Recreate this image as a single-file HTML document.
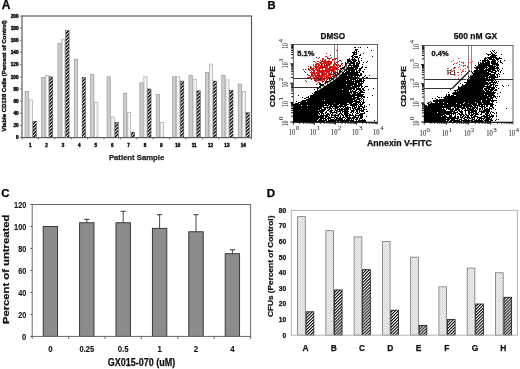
<!DOCTYPE html>
<html><head><meta charset="utf-8"><style>
html,body{margin:0;padding:0;background:#fff;width:520px;height:369px;overflow:hidden}
svg{display:block;filter:blur(0.3px)}
</style></head><body>
<svg width="520" height="369" viewBox="0 0 520 369">
<rect width="520" height="369" fill="#fff"/>
<defs>
<pattern id="hatchA" patternUnits="userSpaceOnUse" width="2.4" height="3" patternTransform="rotate(45)">
<rect width="2.4" height="3" fill="#fff"/><rect width="1.4" height="3" fill="#000"/></pattern>
<pattern id="hatchD" patternUnits="userSpaceOnUse" width="2.15" height="3" patternTransform="rotate(45)">
<rect width="2.15" height="3" fill="#fff"/><rect width="1.05" height="3" fill="#000"/></pattern>
<pattern id="grayA" patternUnits="userSpaceOnUse" width="4" height="4">
<rect width="4" height="4" fill="#cfcfcf"/></pattern>
<pattern id="dotA" patternUnits="userSpaceOnUse" width="2" height="2">
<rect width="2" height="2" fill="#fafafa"/><rect width="1" height="1" fill="#dedede"/></pattern>
<pattern id="dotD" patternUnits="userSpaceOnUse" width="2" height="2">
<rect width="2" height="2" fill="#f0f0f0"/><rect width="1" height="1" fill="#d2d2d2"/><rect x="1" y="1" width="1" height="1" fill="#dcdcdc"/></pattern>
</defs>
<text x="1.7" y="9.3" font-family="Liberation Sans, sans-serif" font-size="12" font-weight="bold" fill="#000" text-anchor="start" stroke="#000" stroke-width="0.25" >A</text>
<text x="267.4" y="9" font-family="Liberation Sans, sans-serif" font-size="11.2" font-weight="bold" fill="#000" text-anchor="start" stroke="#000" stroke-width="0.25" >B</text>
<text x="1.2" y="197.3" font-family="Liberation Sans, sans-serif" font-size="11.4" font-weight="bold" fill="#000" text-anchor="start" stroke="#000" stroke-width="0.25" >C</text>
<text x="266.8" y="196.8" font-family="Liberation Sans, sans-serif" font-size="11.6" font-weight="bold" fill="#000" text-anchor="start" stroke="#000" stroke-width="0.25" >D</text>
<rect x="25.1" y="91.39" width="3.25" height="46.21" fill="url(#grayA)" stroke="#9a9a9a" stroke-width="0.75" />
<rect x="29.05" y="99.9" width="3.25" height="37.7" fill="url(#dotA)" stroke="#a8a8a8" stroke-width="0.7" />
<rect x="32.95" y="121.18" width="3.35" height="16.42" fill="url(#hatchA)" stroke="#333" stroke-width="0.45" />
<rect x="41.49" y="77.41" width="3.25" height="60.19" fill="url(#grayA)" stroke="#9a9a9a" stroke-width="0.75" />
<rect x="45.44" y="75.58" width="3.25" height="62.02" fill="url(#dotA)" stroke="#a8a8a8" stroke-width="0.7" />
<rect x="49.34" y="76.8" width="3.35" height="60.8" fill="url(#hatchA)" stroke="#333" stroke-width="0.45" />
<rect x="57.89" y="43.36" width="3.25" height="94.24" fill="url(#grayA)" stroke="#9a9a9a" stroke-width="0.75" />
<rect x="61.84" y="39.1" width="3.25" height="98.5" fill="url(#dotA)" stroke="#a8a8a8" stroke-width="0.7" />
<rect x="65.74" y="30.59" width="3.35" height="107.01" fill="url(#hatchA)" stroke="#333" stroke-width="0.45" />
<rect x="74.28" y="59.17" width="3.25" height="78.43" fill="url(#grayA)" stroke="#9a9a9a" stroke-width="0.75" />
<rect x="82.13" y="77.41" width="3.35" height="60.19" fill="url(#hatchA)" stroke="#333" stroke-width="0.45" />
<rect x="90.67" y="74.37" width="3.25" height="63.23" fill="url(#grayA)" stroke="#9a9a9a" stroke-width="0.75" />
<rect x="94.62" y="102.34" width="3.25" height="35.26" fill="url(#dotA)" stroke="#a8a8a8" stroke-width="0.7" />
<rect x="107.06" y="76.8" width="3.25" height="60.8" fill="url(#grayA)" stroke="#9a9a9a" stroke-width="0.75" />
<rect x="111.01" y="116.93" width="3.25" height="20.67" fill="url(#dotA)" stroke="#a8a8a8" stroke-width="0.7" />
<rect x="114.91" y="122.4" width="3.35" height="15.2" fill="url(#hatchA)" stroke="#333" stroke-width="0.45" />
<rect x="123.46" y="93.22" width="3.25" height="44.38" fill="url(#grayA)" stroke="#9a9a9a" stroke-width="0.75" />
<rect x="127.41" y="112.67" width="3.25" height="24.93" fill="url(#dotA)" stroke="#a8a8a8" stroke-width="0.7" />
<rect x="131.31" y="132.13" width="3.35" height="5.47" fill="url(#hatchA)" stroke="#333" stroke-width="0.45" />
<rect x="139.85" y="82.88" width="3.25" height="54.72" fill="url(#grayA)" stroke="#9a9a9a" stroke-width="0.75" />
<rect x="143.8" y="76.8" width="3.25" height="60.8" fill="url(#dotA)" stroke="#a8a8a8" stroke-width="0.7" />
<rect x="147.7" y="88.96" width="3.35" height="48.64" fill="url(#hatchA)" stroke="#333" stroke-width="0.45" />
<rect x="156.24" y="94.43" width="3.25" height="43.17" fill="url(#grayA)" stroke="#9a9a9a" stroke-width="0.75" />
<rect x="160.19" y="122.4" width="3.25" height="15.2" fill="url(#dotA)" stroke="#a8a8a8" stroke-width="0.7" />
<rect x="172.64" y="76.8" width="3.25" height="60.8" fill="url(#grayA)" stroke="#9a9a9a" stroke-width="0.75" />
<rect x="176.59" y="76.8" width="3.25" height="60.8" fill="url(#dotA)" stroke="#a8a8a8" stroke-width="0.7" />
<rect x="180.49" y="81.06" width="3.35" height="56.54" fill="url(#hatchA)" stroke="#333" stroke-width="0.45" />
<rect x="189.03" y="75.58" width="3.25" height="62.02" fill="url(#grayA)" stroke="#9a9a9a" stroke-width="0.75" />
<rect x="192.98" y="79.23" width="3.25" height="58.37" fill="url(#dotA)" stroke="#a8a8a8" stroke-width="0.7" />
<rect x="196.88" y="90.78" width="3.35" height="46.82" fill="url(#hatchA)" stroke="#333" stroke-width="0.45" />
<rect x="205.42" y="72.54" width="3.25" height="65.06" fill="url(#grayA)" stroke="#9a9a9a" stroke-width="0.75" />
<rect x="209.37" y="64.03" width="3.25" height="73.57" fill="url(#dotA)" stroke="#a8a8a8" stroke-width="0.7" />
<rect x="213.27" y="81.06" width="3.35" height="56.54" fill="url(#hatchA)" stroke="#333" stroke-width="0.45" />
<rect x="221.81" y="75.58" width="3.25" height="62.02" fill="url(#grayA)" stroke="#9a9a9a" stroke-width="0.75" />
<rect x="225.76" y="79.84" width="3.25" height="57.76" fill="url(#dotA)" stroke="#a8a8a8" stroke-width="0.7" />
<rect x="229.66" y="90.18" width="3.35" height="47.42" fill="url(#hatchA)" stroke="#333" stroke-width="0.45" />
<rect x="238.21" y="84.1" width="3.25" height="53.5" fill="url(#grayA)" stroke="#9a9a9a" stroke-width="0.75" />
<rect x="242.16" y="91.39" width="3.25" height="46.21" fill="url(#dotA)" stroke="#a8a8a8" stroke-width="0.7" />
<rect x="246.06" y="112.67" width="3.35" height="24.93" fill="url(#hatchA)" stroke="#333" stroke-width="0.45" />
<rect x="22" y="16" width="229.5" height="121.6" fill="none" stroke="#5c5c5c" stroke-width="1.2" />
<line x1="20" y1="137.6" x2="22" y2="137.6" stroke="#666" stroke-width="0.8" />
<text x="18.6" y="139.3" font-family="Liberation Sans, sans-serif" font-size="4.7" font-weight="bold" fill="#111" text-anchor="end" stroke="#111" stroke-width="0.45" >0</text>
<line x1="20" y1="125.44" x2="22" y2="125.44" stroke="#666" stroke-width="0.8" />
<text x="18.6" y="127.14" font-family="Liberation Sans, sans-serif" font-size="4.7" font-weight="bold" fill="#111" text-anchor="end" stroke="#111" stroke-width="0.45" >20</text>
<line x1="20" y1="113.28" x2="22" y2="113.28" stroke="#666" stroke-width="0.8" />
<text x="18.6" y="114.98" font-family="Liberation Sans, sans-serif" font-size="4.7" font-weight="bold" fill="#111" text-anchor="end" stroke="#111" stroke-width="0.45" >40</text>
<line x1="20" y1="101.12" x2="22" y2="101.12" stroke="#666" stroke-width="0.8" />
<text x="18.6" y="102.82" font-family="Liberation Sans, sans-serif" font-size="4.7" font-weight="bold" fill="#111" text-anchor="end" stroke="#111" stroke-width="0.45" >60</text>
<line x1="20" y1="88.96" x2="22" y2="88.96" stroke="#666" stroke-width="0.8" />
<text x="18.6" y="90.66" font-family="Liberation Sans, sans-serif" font-size="4.7" font-weight="bold" fill="#111" text-anchor="end" stroke="#111" stroke-width="0.45" >80</text>
<line x1="20" y1="76.8" x2="22" y2="76.8" stroke="#666" stroke-width="0.8" />
<text x="18.6" y="78.5" font-family="Liberation Sans, sans-serif" font-size="4.7" font-weight="bold" fill="#111" text-anchor="end" stroke="#111" stroke-width="0.45" >100</text>
<line x1="20" y1="64.64" x2="22" y2="64.64" stroke="#666" stroke-width="0.8" />
<text x="18.6" y="66.34" font-family="Liberation Sans, sans-serif" font-size="4.7" font-weight="bold" fill="#111" text-anchor="end" stroke="#111" stroke-width="0.45" >120</text>
<line x1="20" y1="52.48" x2="22" y2="52.48" stroke="#666" stroke-width="0.8" />
<text x="18.6" y="54.18" font-family="Liberation Sans, sans-serif" font-size="4.7" font-weight="bold" fill="#111" text-anchor="end" stroke="#111" stroke-width="0.45" >140</text>
<line x1="20" y1="40.32" x2="22" y2="40.32" stroke="#666" stroke-width="0.8" />
<text x="18.6" y="42.02" font-family="Liberation Sans, sans-serif" font-size="4.7" font-weight="bold" fill="#111" text-anchor="end" stroke="#111" stroke-width="0.45" >160</text>
<line x1="20" y1="28.16" x2="22" y2="28.16" stroke="#666" stroke-width="0.8" />
<text x="18.6" y="29.86" font-family="Liberation Sans, sans-serif" font-size="4.7" font-weight="bold" fill="#111" text-anchor="end" stroke="#111" stroke-width="0.45" >180</text>
<line x1="20" y1="16" x2="22" y2="16" stroke="#666" stroke-width="0.8" />
<text x="18.6" y="17.7" font-family="Liberation Sans, sans-serif" font-size="4.7" font-weight="bold" fill="#111" text-anchor="end" stroke="#111" stroke-width="0.45" >200</text>
<line x1="22" y1="137.6" x2="22" y2="139.6" stroke="#666" stroke-width="0.8" />
<line x1="38.39" y1="137.6" x2="38.39" y2="139.6" stroke="#666" stroke-width="0.8" />
<line x1="54.79" y1="137.6" x2="54.79" y2="139.6" stroke="#666" stroke-width="0.8" />
<line x1="71.18" y1="137.6" x2="71.18" y2="139.6" stroke="#666" stroke-width="0.8" />
<line x1="87.57" y1="137.6" x2="87.57" y2="139.6" stroke="#666" stroke-width="0.8" />
<line x1="103.96" y1="137.6" x2="103.96" y2="139.6" stroke="#666" stroke-width="0.8" />
<line x1="120.36" y1="137.6" x2="120.36" y2="139.6" stroke="#666" stroke-width="0.8" />
<line x1="136.75" y1="137.6" x2="136.75" y2="139.6" stroke="#666" stroke-width="0.8" />
<line x1="153.14" y1="137.6" x2="153.14" y2="139.6" stroke="#666" stroke-width="0.8" />
<line x1="169.54" y1="137.6" x2="169.54" y2="139.6" stroke="#666" stroke-width="0.8" />
<line x1="185.93" y1="137.6" x2="185.93" y2="139.6" stroke="#666" stroke-width="0.8" />
<line x1="202.32" y1="137.6" x2="202.32" y2="139.6" stroke="#666" stroke-width="0.8" />
<line x1="218.71" y1="137.6" x2="218.71" y2="139.6" stroke="#666" stroke-width="0.8" />
<line x1="235.11" y1="137.6" x2="235.11" y2="139.6" stroke="#666" stroke-width="0.8" />
<line x1="251.5" y1="137.6" x2="251.5" y2="139.6" stroke="#666" stroke-width="0.8" />
<text x="30.2" y="147" font-family="Liberation Sans, sans-serif" font-size="4.6" font-weight="bold" fill="#111" text-anchor="middle" stroke="#111" stroke-width="0.45" >1</text>
<text x="46.59" y="147" font-family="Liberation Sans, sans-serif" font-size="4.6" font-weight="bold" fill="#111" text-anchor="middle" stroke="#111" stroke-width="0.45" >2</text>
<text x="62.98" y="147" font-family="Liberation Sans, sans-serif" font-size="4.6" font-weight="bold" fill="#111" text-anchor="middle" stroke="#111" stroke-width="0.45" >3</text>
<text x="79.38" y="147" font-family="Liberation Sans, sans-serif" font-size="4.6" font-weight="bold" fill="#111" text-anchor="middle" stroke="#111" stroke-width="0.45" >4</text>
<text x="95.77" y="147" font-family="Liberation Sans, sans-serif" font-size="4.6" font-weight="bold" fill="#111" text-anchor="middle" stroke="#111" stroke-width="0.45" >5</text>
<text x="112.16" y="147" font-family="Liberation Sans, sans-serif" font-size="4.6" font-weight="bold" fill="#111" text-anchor="middle" stroke="#111" stroke-width="0.45" >6</text>
<text x="128.55" y="147" font-family="Liberation Sans, sans-serif" font-size="4.6" font-weight="bold" fill="#111" text-anchor="middle" stroke="#111" stroke-width="0.45" >7</text>
<text x="144.95" y="147" font-family="Liberation Sans, sans-serif" font-size="4.6" font-weight="bold" fill="#111" text-anchor="middle" stroke="#111" stroke-width="0.45" >8</text>
<text x="161.34" y="147" font-family="Liberation Sans, sans-serif" font-size="4.6" font-weight="bold" fill="#111" text-anchor="middle" stroke="#111" stroke-width="0.45" >9</text>
<text x="177.73" y="147" font-family="Liberation Sans, sans-serif" font-size="4.6" font-weight="bold" fill="#111" text-anchor="middle" stroke="#111" stroke-width="0.45" >10</text>
<text x="194.12" y="147" font-family="Liberation Sans, sans-serif" font-size="4.6" font-weight="bold" fill="#111" text-anchor="middle" stroke="#111" stroke-width="0.45" >11</text>
<text x="210.52" y="147" font-family="Liberation Sans, sans-serif" font-size="4.6" font-weight="bold" fill="#111" text-anchor="middle" stroke="#111" stroke-width="0.45" >12</text>
<text x="226.91" y="147" font-family="Liberation Sans, sans-serif" font-size="4.6" font-weight="bold" fill="#111" text-anchor="middle" stroke="#111" stroke-width="0.45" >13</text>
<text x="243.3" y="147" font-family="Liberation Sans, sans-serif" font-size="4.6" font-weight="bold" fill="#111" text-anchor="middle" stroke="#111" stroke-width="0.45" >14</text>
<text x="108.9" y="159.5" font-family="Liberation Sans, sans-serif" font-size="7.8" font-weight="bold" fill="#222" text-anchor="start" stroke="#222" stroke-width="0.25" textLength="55.4" lengthAdjust="spacingAndGlyphs" >Patient Sample</text>
<text transform="translate(6.2,131.4) rotate(-90)" font-family="Liberation Sans, sans-serif" font-size="5.6" font-weight="bold" fill="#111" text-anchor="start" stroke="#111" stroke-width="0.4" textLength="111" lengthAdjust="spacingAndGlyphs" >Viable CD138 Cells (Percent of Control)</text>
<rect x="43.2" y="226.48" width="14.4" height="109.92" fill="#8c8c8c" stroke="#2a2a2a" stroke-width="0.9" />
<line x1="86.8" y1="219.34" x2="86.8" y2="222.75" stroke="#333" stroke-width="0.9" />
<line x1="84.2" y1="219.34" x2="89.4" y2="219.34" stroke="#333" stroke-width="1" />
<rect x="79.6" y="222.75" width="14.4" height="113.65" fill="#8c8c8c" stroke="#2a2a2a" stroke-width="0.9" />
<line x1="123.2" y1="211.31" x2="123.2" y2="222.75" stroke="#333" stroke-width="0.9" />
<line x1="120.6" y1="211.31" x2="125.8" y2="211.31" stroke="#333" stroke-width="1" />
<rect x="116" y="222.75" width="14.4" height="113.65" fill="#8c8c8c" stroke="#2a2a2a" stroke-width="0.9" />
<line x1="159.6" y1="214.72" x2="159.6" y2="228.35" stroke="#333" stroke-width="0.9" />
<line x1="157" y1="214.72" x2="162.2" y2="214.72" stroke="#333" stroke-width="1" />
<rect x="152.4" y="228.35" width="14.4" height="108.05" fill="#8c8c8c" stroke="#2a2a2a" stroke-width="0.9" />
<line x1="196" y1="214.72" x2="196" y2="231.76" stroke="#333" stroke-width="0.9" />
<line x1="193.4" y1="214.72" x2="198.6" y2="214.72" stroke="#333" stroke-width="1" />
<rect x="188.8" y="231.76" width="14.4" height="104.64" fill="#8c8c8c" stroke="#2a2a2a" stroke-width="0.9" />
<line x1="232.4" y1="249.79" x2="232.4" y2="253.74" stroke="#333" stroke-width="0.9" />
<line x1="229.8" y1="249.79" x2="235" y2="249.79" stroke="#333" stroke-width="1" />
<rect x="225.2" y="253.74" width="14.4" height="82.66" fill="#8c8c8c" stroke="#2a2a2a" stroke-width="0.9" />
<rect x="32.2" y="204.5" width="218.4" height="131.9" fill="none" stroke="#6a6a6a" stroke-width="1" />
<line x1="30.4" y1="336.4" x2="32.2" y2="336.4" stroke="#444" stroke-width="0.9" />
<text x="26.3" y="339.8" font-family="Liberation Sans, sans-serif" font-size="9.6" font-weight="bold" fill="#111" text-anchor="end" stroke="#111" stroke-width="0.1" textLength="4.2" lengthAdjust="spacingAndGlyphs" >0</text>
<line x1="30.4" y1="314.42" x2="32.2" y2="314.42" stroke="#444" stroke-width="0.9" />
<text x="26.3" y="317.82" font-family="Liberation Sans, sans-serif" font-size="9.6" font-weight="bold" fill="#111" text-anchor="end" stroke="#111" stroke-width="0.1" textLength="8.1" lengthAdjust="spacingAndGlyphs" >20</text>
<line x1="30.4" y1="292.43" x2="32.2" y2="292.43" stroke="#444" stroke-width="0.9" />
<text x="26.3" y="295.83" font-family="Liberation Sans, sans-serif" font-size="9.6" font-weight="bold" fill="#111" text-anchor="end" stroke="#111" stroke-width="0.1" textLength="8.1" lengthAdjust="spacingAndGlyphs" >40</text>
<line x1="30.4" y1="270.45" x2="32.2" y2="270.45" stroke="#444" stroke-width="0.9" />
<text x="26.3" y="273.85" font-family="Liberation Sans, sans-serif" font-size="9.6" font-weight="bold" fill="#111" text-anchor="end" stroke="#111" stroke-width="0.1" textLength="8.1" lengthAdjust="spacingAndGlyphs" >60</text>
<line x1="30.4" y1="248.47" x2="32.2" y2="248.47" stroke="#444" stroke-width="0.9" />
<text x="26.3" y="251.87" font-family="Liberation Sans, sans-serif" font-size="9.6" font-weight="bold" fill="#111" text-anchor="end" stroke="#111" stroke-width="0.1" textLength="8.1" lengthAdjust="spacingAndGlyphs" >80</text>
<line x1="30.4" y1="226.48" x2="32.2" y2="226.48" stroke="#444" stroke-width="0.9" />
<text x="26.3" y="229.88" font-family="Liberation Sans, sans-serif" font-size="9.6" font-weight="bold" fill="#111" text-anchor="end" stroke="#111" stroke-width="0.1" textLength="12.2" lengthAdjust="spacingAndGlyphs" >100</text>
<line x1="30.4" y1="204.5" x2="32.2" y2="204.5" stroke="#444" stroke-width="0.9" />
<text x="26.3" y="207.9" font-family="Liberation Sans, sans-serif" font-size="9.6" font-weight="bold" fill="#111" text-anchor="end" stroke="#111" stroke-width="0.1" textLength="12.2" lengthAdjust="spacingAndGlyphs" >120</text>
<line x1="32.2" y1="336.4" x2="32.2" y2="338.8" stroke="#444" stroke-width="0.9" />
<line x1="68.6" y1="336.4" x2="68.6" y2="338.8" stroke="#444" stroke-width="0.9" />
<line x1="105" y1="336.4" x2="105" y2="338.8" stroke="#444" stroke-width="0.9" />
<line x1="141.4" y1="336.4" x2="141.4" y2="338.8" stroke="#444" stroke-width="0.9" />
<line x1="177.8" y1="336.4" x2="177.8" y2="338.8" stroke="#444" stroke-width="0.9" />
<line x1="214.2" y1="336.4" x2="214.2" y2="338.8" stroke="#444" stroke-width="0.9" />
<line x1="250.6" y1="336.4" x2="250.6" y2="338.8" stroke="#444" stroke-width="0.9" />
<text x="50.4" y="352" font-family="Liberation Sans, sans-serif" font-size="9" font-weight="bold" fill="#111" text-anchor="middle" stroke="#111" stroke-width="0.1" textLength="4.4" lengthAdjust="spacingAndGlyphs" >0</text>
<text x="86.8" y="352" font-family="Liberation Sans, sans-serif" font-size="9" font-weight="bold" fill="#111" text-anchor="middle" stroke="#111" stroke-width="0.1" textLength="14.6" lengthAdjust="spacingAndGlyphs" >0.25</text>
<text x="123.2" y="352" font-family="Liberation Sans, sans-serif" font-size="9" font-weight="bold" fill="#111" text-anchor="middle" stroke="#111" stroke-width="0.1" textLength="10.8" lengthAdjust="spacingAndGlyphs" >0.5</text>
<text x="159.6" y="352" font-family="Liberation Sans, sans-serif" font-size="9" font-weight="bold" fill="#111" text-anchor="middle" stroke="#111" stroke-width="0.1" textLength="4.4" lengthAdjust="spacingAndGlyphs" >1</text>
<text x="196" y="352" font-family="Liberation Sans, sans-serif" font-size="9" font-weight="bold" fill="#111" text-anchor="middle" stroke="#111" stroke-width="0.1" textLength="4.4" lengthAdjust="spacingAndGlyphs" >2</text>
<text x="232.4" y="352" font-family="Liberation Sans, sans-serif" font-size="9" font-weight="bold" fill="#111" text-anchor="middle" stroke="#111" stroke-width="0.1" textLength="4.4" lengthAdjust="spacingAndGlyphs" >4</text>
<text x="107.8" y="365.7" font-family="Liberation Sans, sans-serif" font-size="10.6" font-weight="bold" fill="#111" text-anchor="start" stroke="#111" stroke-width="0.25" textLength="67.4" lengthAdjust="spacingAndGlyphs" >GX015-070 (uM)</text>
<text transform="translate(8.6,324.1) rotate(-90)" font-family="Liberation Sans, sans-serif" font-size="8.9" font-weight="bold" fill="#111" text-anchor="start" stroke="#111" stroke-width="0.25" textLength="109.4" lengthAdjust="spacingAndGlyphs" >Percent of untreated</text>
<rect x="297.6" y="216.64" width="7.7" height="118.56" fill="url(#dotD)" stroke="#777" stroke-width="0.8" />
<rect x="306.1" y="311.8" width="7.7" height="23.4" fill="url(#hatchD)" stroke="#111" stroke-width="0.8" />
<text x="305.43" y="351.3" font-family="Liberation Sans, sans-serif" font-size="8.4" font-weight="bold" fill="#111" text-anchor="middle" stroke="#111" stroke-width="0.25" >A</text>
<rect x="325.86" y="230.68" width="7.7" height="104.52" fill="url(#dotD)" stroke="#777" stroke-width="0.8" />
<rect x="334.36" y="289.96" width="7.7" height="45.24" fill="url(#hatchD)" stroke="#111" stroke-width="0.8" />
<text x="333.69" y="351.3" font-family="Liberation Sans, sans-serif" font-size="8.4" font-weight="bold" fill="#111" text-anchor="middle" stroke="#111" stroke-width="0.25" >B</text>
<rect x="354.12" y="236.92" width="7.7" height="98.28" fill="url(#dotD)" stroke="#777" stroke-width="0.8" />
<rect x="362.62" y="269.68" width="7.7" height="65.52" fill="url(#hatchD)" stroke="#111" stroke-width="0.8" />
<text x="361.96" y="351.3" font-family="Liberation Sans, sans-serif" font-size="8.4" font-weight="bold" fill="#111" text-anchor="middle" stroke="#111" stroke-width="0.25" >C</text>
<rect x="382.39" y="241.6" width="7.7" height="93.6" fill="url(#dotD)" stroke="#777" stroke-width="0.8" />
<rect x="390.89" y="310.24" width="7.7" height="24.96" fill="url(#hatchD)" stroke="#111" stroke-width="0.8" />
<text x="390.22" y="351.3" font-family="Liberation Sans, sans-serif" font-size="8.4" font-weight="bold" fill="#111" text-anchor="middle" stroke="#111" stroke-width="0.25" >D</text>
<rect x="410.65" y="257.2" width="7.7" height="78" fill="url(#dotD)" stroke="#777" stroke-width="0.8" />
<rect x="419.15" y="325.53" width="7.7" height="9.67" fill="url(#hatchD)" stroke="#111" stroke-width="0.8" />
<text x="418.48" y="351.3" font-family="Liberation Sans, sans-serif" font-size="8.4" font-weight="bold" fill="#111" text-anchor="middle" stroke="#111" stroke-width="0.25" >E</text>
<rect x="438.91" y="286.84" width="7.7" height="48.36" fill="url(#dotD)" stroke="#777" stroke-width="0.8" />
<rect x="447.41" y="319.6" width="7.7" height="15.6" fill="url(#hatchD)" stroke="#111" stroke-width="0.8" />
<text x="446.74" y="351.3" font-family="Liberation Sans, sans-serif" font-size="8.4" font-weight="bold" fill="#111" text-anchor="middle" stroke="#111" stroke-width="0.25" >F</text>
<rect x="467.17" y="268.12" width="7.7" height="67.08" fill="url(#dotD)" stroke="#777" stroke-width="0.8" />
<rect x="475.67" y="304" width="7.7" height="31.2" fill="url(#hatchD)" stroke="#111" stroke-width="0.8" />
<text x="475.01" y="351.3" font-family="Liberation Sans, sans-serif" font-size="8.4" font-weight="bold" fill="#111" text-anchor="middle" stroke="#111" stroke-width="0.25" >G</text>
<rect x="495.44" y="272.8" width="7.7" height="62.4" fill="url(#dotD)" stroke="#777" stroke-width="0.8" />
<rect x="503.94" y="297.29" width="7.7" height="37.91" fill="url(#hatchD)" stroke="#111" stroke-width="0.8" />
<text x="503.27" y="351.3" font-family="Liberation Sans, sans-serif" font-size="8.4" font-weight="bold" fill="#111" text-anchor="middle" stroke="#111" stroke-width="0.25" >H</text>
<rect x="291.3" y="210.4" width="226.1" height="124.8" fill="none" stroke="#b4b4b4" stroke-width="1" />
<text x="286.2" y="337.6" font-family="Liberation Sans, sans-serif" font-size="6.6" font-weight="bold" fill="#111" text-anchor="end" stroke="#111" stroke-width="0.25" >0</text>
<text x="286.2" y="322" font-family="Liberation Sans, sans-serif" font-size="6.6" font-weight="bold" fill="#111" text-anchor="end" stroke="#111" stroke-width="0.25" >10</text>
<text x="286.2" y="306.4" font-family="Liberation Sans, sans-serif" font-size="6.6" font-weight="bold" fill="#111" text-anchor="end" stroke="#111" stroke-width="0.25" >20</text>
<text x="286.2" y="290.8" font-family="Liberation Sans, sans-serif" font-size="6.6" font-weight="bold" fill="#111" text-anchor="end" stroke="#111" stroke-width="0.25" >30</text>
<text x="286.2" y="275.2" font-family="Liberation Sans, sans-serif" font-size="6.6" font-weight="bold" fill="#111" text-anchor="end" stroke="#111" stroke-width="0.25" >40</text>
<text x="286.2" y="259.6" font-family="Liberation Sans, sans-serif" font-size="6.6" font-weight="bold" fill="#111" text-anchor="end" stroke="#111" stroke-width="0.25" >50</text>
<text x="286.2" y="244" font-family="Liberation Sans, sans-serif" font-size="6.6" font-weight="bold" fill="#111" text-anchor="end" stroke="#111" stroke-width="0.25" >60</text>
<text x="286.2" y="228.4" font-family="Liberation Sans, sans-serif" font-size="6.6" font-weight="bold" fill="#111" text-anchor="end" stroke="#111" stroke-width="0.25" >70</text>
<text x="286.2" y="212.8" font-family="Liberation Sans, sans-serif" font-size="6.6" font-weight="bold" fill="#111" text-anchor="end" stroke="#111" stroke-width="0.25" >80</text>
<text transform="translate(272.5,317) rotate(-90)" font-family="Liberation Sans, sans-serif" font-size="8.1" font-weight="bold" fill="#111" text-anchor="start" stroke="#111" stroke-width="0.25" textLength="101.4" lengthAdjust="spacingAndGlyphs" >CFUs (Percent of Control)</text>
<rect x="293.4" y="44.5" width="84.1" height="77.5" fill="none" stroke="#555" stroke-width="0.9" />
<path d="M293.4 78.5H377.5M293.4 87.5H319" stroke="#333" stroke-width="1" fill="none"/>
<path d="M334.5 44.5V122M337.5 44.5V122" stroke="#555" stroke-width="0.7" fill="none"/>
<path fill="#000" d="M354 47h2v1h-2zM358 47h1v1h-1zM360 47h1v1h-1zM367 47h1v1h-1zM355 49h3v1h-3zM355 50h2v1h-2zM371 50h1v1h-1zM354 51h1v1h-1zM356 51h1v1h-1zM358 51h1v1h-1zM352 52h5v1h-5zM353 53h2v1h-2zM356 53h1v1h-1zM363 53h1v1h-1zM353 54h4v1h-4zM360 54h1v1h-1zM352 55h2v1h-2zM359 55h2v1h-2zM351 56h2v1h-2zM354 56h4v1h-4zM372 56h1v1h-1zM352 57h2v1h-2zM355 57h3v1h-3zM359 57h1v1h-1zM349 58h1v1h-1zM352 58h1v1h-1zM354 58h1v1h-1zM358 58h1v1h-1zM361 58h1v1h-1zM347 59h3v1h-3zM351 59h5v1h-5zM358 59h1v1h-1zM340 60h1v1h-1zM347 60h4v1h-4zM352 60h5v1h-5zM358 60h1v1h-1zM361 60h1v1h-1zM347 61h5v1h-5zM353 61h3v1h-3zM358 61h2v1h-2zM367 61h1v1h-1zM345 62h1v1h-1zM347 62h2v1h-2zM350 62h5v1h-5zM356 62h2v1h-2zM359 62h1v1h-1zM363 62h1v1h-1zM366 62h1v1h-1zM345 63h10v1h-10zM356 63h4v1h-4zM345 64h3v1h-3zM349 64h2v1h-2zM353 64h2v1h-2zM356 64h3v1h-3zM362 64h1v1h-1zM345 65h14v1h-14zM340 66h1v1h-1zM344 66h3v1h-3zM348 66h1v1h-1zM351 66h1v1h-1zM353 66h6v1h-6zM362 66h1v1h-1zM342 67h16v1h-16zM361 67h2v1h-2zM365 67h2v1h-2zM340 68h14v1h-14zM355 68h3v1h-3zM359 68h3v1h-3zM338 69h1v1h-1zM341 69h1v1h-1zM343 69h14v1h-14zM359 69h2v1h-2zM364 69h1v1h-1zM340 70h1v1h-1zM342 70h5v1h-5zM348 70h7v1h-7zM356 70h1v1h-1zM358 70h3v1h-3zM339 71h6v1h-6zM346 71h4v1h-4zM351 71h4v1h-4zM356 71h2v1h-2zM359 71h1v1h-1zM362 71h2v1h-2zM335 72h1v1h-1zM337 72h1v1h-1zM339 72h5v1h-5zM345 72h15v1h-15zM363 72h1v1h-1zM334 73h1v1h-1zM337 73h21v1h-21zM360 73h2v1h-2zM335 74h1v1h-1zM338 74h21v1h-21zM360 74h2v1h-2zM335 75h12v1h-12zM348 75h14v1h-14zM365 75h1v1h-1zM369 75h1v1h-1zM332 76h1v1h-1zM336 76h17v1h-17zM354 76h2v1h-2zM357 76h1v1h-1zM359 76h1v1h-1zM364 76h1v1h-1zM326 77h1v1h-1zM331 77h1v1h-1zM334 77h25v1h-25zM362 77h2v1h-2zM366 77h2v1h-2zM329 78h23v1h-23zM353 78h4v1h-4zM359 78h1v1h-1zM364 78h1v1h-1zM327 79h1v1h-1zM329 79h1v1h-1zM331 79h18v1h-18zM350 79h6v1h-6zM357 79h1v1h-1zM359 79h3v1h-3zM363 79h1v1h-1zM330 80h16v1h-16zM347 80h5v1h-5zM353 80h1v1h-1zM355 80h7v1h-7zM363 80h2v1h-2zM323 81h1v1h-1zM326 81h38v1h-38zM325 82h29v1h-29zM355 82h5v1h-5zM361 82h1v1h-1zM363 82h1v1h-1zM320 83h1v1h-1zM325 83h1v1h-1zM327 83h30v1h-30zM358 83h5v1h-5zM319 84h5v1h-5zM325 84h21v1h-21zM347 84h10v1h-10zM358 84h4v1h-4zM320 85h33v1h-33zM354 85h8v1h-8zM319 86h2v1h-2zM322 86h29v1h-29zM352 86h8v1h-8zM361 86h2v1h-2zM365 86h3v1h-3zM316 87h2v1h-2zM319 87h38v1h-38zM358 87h1v1h-1zM361 87h1v1h-1zM364 87h1v1h-1zM317 88h38v1h-38zM356 88h5v1h-5zM362 88h2v1h-2zM373 88h1v1h-1zM314 89h1v1h-1zM317 89h25v1h-25zM343 89h9v1h-9zM353 89h2v1h-2zM356 89h5v1h-5zM362 89h2v1h-2zM368 89h1v1h-1zM317 90h32v1h-32zM350 90h1v1h-1zM352 90h1v1h-1zM355 90h2v1h-2zM359 90h3v1h-3zM363 90h2v1h-2zM315 91h34v1h-34zM350 91h6v1h-6zM358 91h1v1h-1zM360 91h3v1h-3zM314 92h38v1h-38zM353 92h5v1h-5zM359 92h6v1h-6zM312 93h1v1h-1zM314 93h36v1h-36zM351 93h1v1h-1zM353 93h3v1h-3zM357 93h4v1h-4zM313 94h38v1h-38zM352 94h12v1h-12zM298 95h1v1h-1zM310 95h53v1h-53zM372 95h1v1h-1zM308 96h1v1h-1zM310 96h45v1h-45zM357 96h8v1h-8zM302 97h1v1h-1zM306 97h3v1h-3zM310 97h42v1h-42zM353 97h6v1h-6zM361 97h1v1h-1zM363 97h2v1h-2zM367 97h1v1h-1zM304 98h2v1h-2zM308 98h48v1h-48zM357 98h4v1h-4zM362 98h1v1h-1zM306 99h49v1h-49zM356 99h4v1h-4zM361 99h1v1h-1zM363 99h1v1h-1zM302 100h22v1h-22zM325 100h28v1h-28zM354 100h3v1h-3zM359 100h2v1h-2zM363 100h1v1h-1zM296 101h1v1h-1zM301 101h5v1h-5zM307 101h53v1h-53zM361 101h1v1h-1zM363 101h1v1h-1zM298 102h55v1h-55zM355 102h6v1h-6zM362 102h3v1h-3zM295 103h4v1h-4zM300 103h34v1h-34zM335 103h12v1h-12zM349 103h3v1h-3zM353 103h4v1h-4zM358 103h1v1h-1zM360 103h1v1h-1zM362 103h2v1h-2zM293 104h31v1h-31zM325 104h2v1h-2zM328 104h11v1h-11zM340 104h9v1h-9zM350 104h8v1h-8zM359 104h4v1h-4zM369 104h1v1h-1zM293 105h8v1h-8zM302 105h5v1h-5zM308 105h21v1h-21zM330 105h2v1h-2zM333 105h4v1h-4zM339 105h4v1h-4zM344 105h3v1h-3zM350 105h7v1h-7zM358 105h1v1h-1zM360 105h2v1h-2zM364 105h1v1h-1zM294 106h30v1h-30zM327 106h1v1h-1zM329 106h17v1h-17zM347 106h1v1h-1zM352 106h3v1h-3zM356 106h1v1h-1zM358 106h5v1h-5zM364 106h1v1h-1zM366 106h1v1h-1zM293 107h29v1h-29zM323 107h8v1h-8zM332 107h1v1h-1zM335 107h4v1h-4zM340 107h1v1h-1zM343 107h1v1h-1zM345 107h6v1h-6zM352 107h1v1h-1zM354 107h3v1h-3zM358 107h2v1h-2zM362 107h3v1h-3zM293 108h29v1h-29zM324 108h2v1h-2zM327 108h1v1h-1zM329 108h3v1h-3zM333 108h1v1h-1zM335 108h3v1h-3zM339 108h1v1h-1zM341 108h2v1h-2zM344 108h5v1h-5zM350 108h1v1h-1zM352 108h4v1h-4zM357 108h5v1h-5zM363 108h1v1h-1zM293 109h27v1h-27zM321 109h5v1h-5zM328 109h2v1h-2zM331 109h1v1h-1zM335 109h1v1h-1zM337 109h12v1h-12zM350 109h1v1h-1zM353 109h1v1h-1zM355 109h5v1h-5zM361 109h1v1h-1zM363 109h2v1h-2zM366 109h1v1h-1zM293 110h25v1h-25zM319 110h6v1h-6zM327 110h2v1h-2zM330 110h3v1h-3zM335 110h3v1h-3zM339 110h4v1h-4zM344 110h4v1h-4zM351 110h4v1h-4zM356 110h2v1h-2zM359 110h5v1h-5zM293 111h31v1h-31zM326 111h1v1h-1zM329 111h3v1h-3zM334 111h1v1h-1zM336 111h1v1h-1zM338 111h3v1h-3zM342 111h7v1h-7zM351 111h3v1h-3zM356 111h2v1h-2zM359 111h1v1h-1zM361 111h3v1h-3zM366 111h2v1h-2zM293 112h26v1h-26zM320 112h3v1h-3zM325 112h2v1h-2zM330 112h7v1h-7zM340 112h1v1h-1zM342 112h1v1h-1zM344 112h4v1h-4zM350 112h2v1h-2zM353 112h1v1h-1zM355 112h1v1h-1zM357 112h1v1h-1zM359 112h1v1h-1zM364 112h1v1h-1zM293 113h27v1h-27zM321 113h3v1h-3zM325 113h1v1h-1zM327 113h2v1h-2zM330 113h1v1h-1zM332 113h1v1h-1zM336 113h1v1h-1zM339 113h3v1h-3zM344 113h5v1h-5zM352 113h1v1h-1zM356 113h3v1h-3zM360 113h5v1h-5zM293 114h25v1h-25zM319 114h1v1h-1zM321 114h1v1h-1zM323 114h1v1h-1zM326 114h4v1h-4zM331 114h2v1h-2zM335 114h1v1h-1zM338 114h2v1h-2zM341 114h2v1h-2zM344 114h4v1h-4zM349 114h2v1h-2zM352 114h1v1h-1zM355 114h1v1h-1zM359 114h4v1h-4zM293 115h26v1h-26zM320 115h8v1h-8zM329 115h1v1h-1zM331 115h8v1h-8zM340 115h1v1h-1zM342 115h2v1h-2zM345 115h9v1h-9zM355 115h8v1h-8zM293 116h31v1h-31zM325 116h4v1h-4zM331 116h1v1h-1zM334 116h2v1h-2zM338 116h1v1h-1zM340 116h1v1h-1zM343 116h1v1h-1zM345 116h3v1h-3zM349 116h1v1h-1zM353 116h3v1h-3zM358 116h1v1h-1zM360 116h3v1h-3zM366 116h1v1h-1zM293 117h31v1h-31zM325 117h2v1h-2zM328 117h6v1h-6zM335 117h3v1h-3zM339 117h2v1h-2zM342 117h3v1h-3zM346 117h5v1h-5zM352 117h7v1h-7zM360 117h3v1h-3zM293 118h26v1h-26zM320 118h6v1h-6zM327 118h4v1h-4zM334 118h1v1h-1zM336 118h7v1h-7zM345 118h1v1h-1zM347 118h8v1h-8zM356 118h2v1h-2zM359 118h3v1h-3zM293 119h25v1h-25zM319 119h3v1h-3zM323 119h1v1h-1zM325 119h2v1h-2zM328 119h1v1h-1zM330 119h4v1h-4zM335 119h2v1h-2zM338 119h5v1h-5zM344 119h1v1h-1zM346 119h4v1h-4zM351 119h1v1h-1zM353 119h1v1h-1zM355 119h3v1h-3zM359 119h1v1h-1zM362 119h1v1h-1zM364 119h1v1h-1zM293 120h24v1h-24zM318 120h9v1h-9zM328 120h26v1h-26zM356 120h1v1h-1zM358 120h8v1h-8zM374 120h1v1h-1zM293 121h32v1h-32zM326 121h10v1h-10zM337 121h2v1h-2zM340 121h9v1h-9zM350 121h16v1h-16z"/>
<path fill="#e01818" d="M336 50h1v1h-1zM326 53h1v1h-1zM325 56h2v1h-2zM319 57h1v1h-1zM327 57h1v1h-1zM331 57h1v1h-1zM318 58h1v1h-1zM322 58h2v1h-2zM327 58h1v1h-1zM329 58h2v1h-2zM334 58h4v1h-4zM322 59h2v1h-2zM325 59h1v1h-1zM329 59h1v1h-1zM332 59h1v1h-1zM335 59h1v1h-1zM320 60h1v1h-1zM322 60h1v1h-1zM324 60h2v1h-2zM328 60h1v1h-1zM332 60h1v1h-1zM339 60h1v1h-1zM313 61h2v1h-2zM317 61h2v1h-2zM323 61h8v1h-8zM334 61h1v1h-1zM338 61h1v1h-1zM341 61h1v1h-1zM315 62h1v1h-1zM319 62h1v1h-1zM321 62h1v1h-1zM323 62h5v1h-5zM329 62h2v1h-2zM334 62h1v1h-1zM336 62h2v1h-2zM316 63h3v1h-3zM320 63h12v1h-12zM335 63h1v1h-1zM337 63h1v1h-1zM341 63h1v1h-1zM313 64h1v1h-1zM315 64h5v1h-5zM322 64h1v1h-1zM327 64h1v1h-1zM329 64h2v1h-2zM333 64h3v1h-3zM338 64h1v1h-1zM341 64h1v1h-1zM313 65h1v1h-1zM315 65h2v1h-2zM318 65h5v1h-5zM327 65h2v1h-2zM333 65h2v1h-2zM337 65h4v1h-4zM342 65h1v1h-1zM310 66h1v1h-1zM314 66h5v1h-5zM320 66h1v1h-1zM322 66h6v1h-6zM329 66h7v1h-7zM337 66h1v1h-1zM339 66h1v1h-1zM311 67h1v1h-1zM313 67h1v1h-1zM315 67h1v1h-1zM317 67h2v1h-2zM320 67h1v1h-1zM323 67h1v1h-1zM325 67h3v1h-3zM329 67h1v1h-1zM331 67h6v1h-6zM338 67h1v1h-1zM308 68h1v1h-1zM310 68h5v1h-5zM318 68h1v1h-1zM320 68h3v1h-3zM325 68h4v1h-4zM330 68h1v1h-1zM332 68h4v1h-4zM337 68h1v1h-1zM309 69h1v1h-1zM311 69h3v1h-3zM315 69h2v1h-2zM318 69h2v1h-2zM322 69h1v1h-1zM325 69h13v1h-13zM340 69h1v1h-1zM309 70h2v1h-2zM312 70h2v1h-2zM316 70h1v1h-1zM318 70h1v1h-1zM320 70h4v1h-4zM325 70h7v1h-7zM333 70h2v1h-2zM337 70h1v1h-1zM339 70h1v1h-1zM311 71h1v1h-1zM313 71h2v1h-2zM317 71h2v1h-2zM320 71h1v1h-1zM322 71h5v1h-5zM328 71h1v1h-1zM331 71h5v1h-5zM310 72h3v1h-3zM314 72h1v1h-1zM316 72h6v1h-6zM323 72h2v1h-2zM326 72h4v1h-4zM334 72h1v1h-1zM336 72h1v1h-1zM311 73h9v1h-9zM321 73h5v1h-5zM328 73h2v1h-2zM331 73h1v1h-1zM333 73h1v1h-1zM335 73h1v1h-1zM314 74h2v1h-2zM317 74h3v1h-3zM321 74h1v1h-1zM323 74h4v1h-4zM328 74h2v1h-2zM331 74h2v1h-2zM308 75h2v1h-2zM311 75h6v1h-6zM320 75h5v1h-5zM326 75h5v1h-5zM334 75h1v1h-1zM310 76h4v1h-4zM315 76h2v1h-2zM318 76h11v1h-11zM330 76h1v1h-1zM333 76h3v1h-3zM307 77h3v1h-3zM313 77h3v1h-3zM317 77h1v1h-1zM319 77h2v1h-2zM322 77h1v1h-1zM324 77h1v1h-1zM327 77h4v1h-4zM333 77h1v1h-1zM311 78h3v1h-3zM315 78h3v1h-3zM319 78h1v1h-1zM322 78h2v1h-2zM325 78h3v1h-3zM314 79h4v1h-4zM321 79h2v1h-2zM326 79h1v1h-1zM305 80h1v1h-1zM315 80h3v1h-3zM319 80h4v1h-4zM326 80h1v1h-1zM329 80h1v1h-1zM306 81h1v1h-1zM315 81h2v1h-2zM322 81h1v1h-1zM318 82h2v1h-2zM317 83h1v1h-1zM319 83h1v1h-1z"/>
<path fill="#7a0c0c" d="M330 55h1v1h-1zM316 57h1v1h-1zM328 58h1v1h-1zM333 59h1v1h-1zM321 61h2v1h-2zM331 61h1v1h-1zM320 62h1v1h-1zM328 62h1v1h-1zM331 62h1v1h-1zM334 63h1v1h-1zM342 63h1v1h-1zM321 64h1v1h-1zM324 64h1v1h-1zM326 64h1v1h-1zM328 64h1v1h-1zM336 64h1v1h-1zM324 65h3v1h-3zM329 65h1v1h-1zM336 65h1v1h-1zM308 66h1v1h-1zM321 66h1v1h-1zM310 67h1v1h-1zM316 67h1v1h-1zM319 67h1v1h-1zM321 67h2v1h-2zM324 67h1v1h-1zM330 67h1v1h-1zM316 68h1v1h-1zM319 68h1v1h-1zM329 68h1v1h-1zM336 68h1v1h-1zM303 69h1v1h-1zM305 69h1v1h-1zM308 69h1v1h-1zM317 69h1v1h-1zM314 70h1v1h-1zM317 70h1v1h-1zM319 70h1v1h-1zM324 70h1v1h-1zM332 70h1v1h-1zM304 71h1v1h-1zM319 71h1v1h-1zM321 71h1v1h-1zM327 71h1v1h-1zM329 71h1v1h-1zM305 72h1v1h-1zM313 72h1v1h-1zM322 72h1v1h-1zM331 72h1v1h-1zM333 72h1v1h-1zM326 73h1v1h-1zM330 73h1v1h-1zM307 74h1v1h-1zM311 74h2v1h-2zM322 74h1v1h-1zM330 74h1v1h-1zM333 74h1v1h-1zM336 74h1v1h-1zM317 75h3v1h-3zM333 75h1v1h-1zM310 77h1v1h-1zM316 77h1v1h-1zM318 77h1v1h-1zM321 77h1v1h-1zM306 78h1v1h-1zM321 78h1v1h-1zM324 78h1v1h-1zM328 78h1v1h-1zM311 79h1v1h-1zM318 79h3v1h-3zM323 79h2v1h-2zM314 80h1v1h-1zM318 80h1v1h-1zM324 80h1v1h-1zM325 81h1v1h-1zM322 82h1v1h-1zM324 83h1v1h-1zM316 84h1v1h-1z"/>
<path d="M318 90L324 86L331 81.5L338 76.5L345 69L348.5 63" stroke="#fff" stroke-width="1.2" stroke-dasharray="3 0.8" fill="none"/>
<text x="320.6" y="39.2" font-family="Liberation Sans, sans-serif" font-size="8.3" font-weight="bold" fill="#111" text-anchor="start" stroke="#111" stroke-width="0.25" textLength="24.5" lengthAdjust="spacingAndGlyphs" >DMSO</text>
<text x="297.3" y="55.5" font-family="Liberation Sans, sans-serif" font-size="7.7" font-weight="bold" fill="#1a1a1a" text-anchor="start" stroke="#1a1a1a" stroke-width="0.4" textLength="17.1" lengthAdjust="spacingAndGlyphs" >5.1%</text>
<line x1="293.4" y1="122" x2="293.4" y2="124.6" stroke="#000" stroke-width="0.9" />
<line x1="299.73" y1="122" x2="299.73" y2="123.8" stroke="#000" stroke-width="0.9" />
<line x1="303.43" y1="122" x2="303.43" y2="123.8" stroke="#000" stroke-width="0.9" />
<line x1="306.06" y1="122" x2="306.06" y2="123.8" stroke="#000" stroke-width="0.9" />
<line x1="308.1" y1="122" x2="308.1" y2="123.8" stroke="#000" stroke-width="0.9" />
<line x1="309.76" y1="122" x2="309.76" y2="123.8" stroke="#000" stroke-width="0.9" />
<line x1="311.17" y1="122" x2="311.17" y2="123.8" stroke="#000" stroke-width="0.9" />
<line x1="312.39" y1="122" x2="312.39" y2="123.8" stroke="#000" stroke-width="0.9" />
<line x1="313.46" y1="122" x2="313.46" y2="123.8" stroke="#000" stroke-width="0.9" />
<line x1="314.42" y1="122" x2="314.42" y2="124.6" stroke="#000" stroke-width="0.9" />
<line x1="320.75" y1="122" x2="320.75" y2="123.8" stroke="#000" stroke-width="0.9" />
<line x1="324.46" y1="122" x2="324.46" y2="123.8" stroke="#000" stroke-width="0.9" />
<line x1="327.08" y1="122" x2="327.08" y2="123.8" stroke="#000" stroke-width="0.9" />
<line x1="329.12" y1="122" x2="329.12" y2="123.8" stroke="#000" stroke-width="0.9" />
<line x1="330.79" y1="122" x2="330.79" y2="123.8" stroke="#000" stroke-width="0.9" />
<line x1="332.19" y1="122" x2="332.19" y2="123.8" stroke="#000" stroke-width="0.9" />
<line x1="333.41" y1="122" x2="333.41" y2="123.8" stroke="#000" stroke-width="0.9" />
<line x1="334.49" y1="122" x2="334.49" y2="123.8" stroke="#000" stroke-width="0.9" />
<line x1="335.45" y1="122" x2="335.45" y2="124.6" stroke="#000" stroke-width="0.9" />
<line x1="341.78" y1="122" x2="341.78" y2="123.8" stroke="#000" stroke-width="0.9" />
<line x1="345.48" y1="122" x2="345.48" y2="123.8" stroke="#000" stroke-width="0.9" />
<line x1="348.11" y1="122" x2="348.11" y2="123.8" stroke="#000" stroke-width="0.9" />
<line x1="350.15" y1="122" x2="350.15" y2="123.8" stroke="#000" stroke-width="0.9" />
<line x1="351.81" y1="122" x2="351.81" y2="123.8" stroke="#000" stroke-width="0.9" />
<line x1="353.22" y1="122" x2="353.22" y2="123.8" stroke="#000" stroke-width="0.9" />
<line x1="354.44" y1="122" x2="354.44" y2="123.8" stroke="#000" stroke-width="0.9" />
<line x1="355.51" y1="122" x2="355.51" y2="123.8" stroke="#000" stroke-width="0.9" />
<line x1="356.48" y1="122" x2="356.48" y2="124.6" stroke="#000" stroke-width="0.9" />
<line x1="362.8" y1="122" x2="362.8" y2="123.8" stroke="#000" stroke-width="0.9" />
<line x1="366.51" y1="122" x2="366.51" y2="123.8" stroke="#000" stroke-width="0.9" />
<line x1="369.13" y1="122" x2="369.13" y2="123.8" stroke="#000" stroke-width="0.9" />
<line x1="371.17" y1="122" x2="371.17" y2="123.8" stroke="#000" stroke-width="0.9" />
<line x1="372.84" y1="122" x2="372.84" y2="123.8" stroke="#000" stroke-width="0.9" />
<line x1="374.24" y1="122" x2="374.24" y2="123.8" stroke="#000" stroke-width="0.9" />
<line x1="375.46" y1="122" x2="375.46" y2="123.8" stroke="#000" stroke-width="0.9" />
<line x1="376.54" y1="122" x2="376.54" y2="123.8" stroke="#000" stroke-width="0.9" />
<line x1="377.5" y1="122" x2="377.5" y2="124.6" stroke="#111" stroke-width="0.6" />
<line x1="293.4" y1="122.5" x2="377.5" y2="122.5" stroke="#222" stroke-width="1" />
<text x="288.8" y="134.8" font-family="Liberation Serif, serif" font-size="7.8" font-weight="normal" fill="#333" text-anchor="start" stroke="#333" stroke-width="0.1" textLength="6.6" lengthAdjust="spacingAndGlyphs" >10</text>
<text x="295.8" y="130" font-family="Liberation Serif, serif" font-size="7" font-weight="normal" fill="#333" text-anchor="start" stroke="#333" stroke-width="0.05" >0</text>
<text x="309.82" y="134.8" font-family="Liberation Serif, serif" font-size="7.8" font-weight="normal" fill="#333" text-anchor="start" stroke="#333" stroke-width="0.1" textLength="6.6" lengthAdjust="spacingAndGlyphs" >10</text>
<text x="316.82" y="130" font-family="Liberation Serif, serif" font-size="7" font-weight="normal" fill="#333" text-anchor="start" stroke="#333" stroke-width="0.05" >1</text>
<text x="330.85" y="134.8" font-family="Liberation Serif, serif" font-size="7.8" font-weight="normal" fill="#333" text-anchor="start" stroke="#333" stroke-width="0.1" textLength="6.6" lengthAdjust="spacingAndGlyphs" >10</text>
<text x="337.85" y="130" font-family="Liberation Serif, serif" font-size="7" font-weight="normal" fill="#333" text-anchor="start" stroke="#333" stroke-width="0.05" >2</text>
<text x="351.88" y="134.8" font-family="Liberation Serif, serif" font-size="7.8" font-weight="normal" fill="#333" text-anchor="start" stroke="#333" stroke-width="0.1" textLength="6.6" lengthAdjust="spacingAndGlyphs" >10</text>
<text x="358.88" y="130" font-family="Liberation Serif, serif" font-size="7" font-weight="normal" fill="#333" text-anchor="start" stroke="#333" stroke-width="0.05" >3</text>
<text x="372.9" y="134.8" font-family="Liberation Serif, serif" font-size="7.8" font-weight="normal" fill="#333" text-anchor="start" stroke="#333" stroke-width="0.1" textLength="6.6" lengthAdjust="spacingAndGlyphs" >10</text>
<text x="379.9" y="130" font-family="Liberation Serif, serif" font-size="7" font-weight="normal" fill="#333" text-anchor="start" stroke="#333" stroke-width="0.05" >4</text>
<line x1="290.3" y1="122" x2="293.1" y2="122" stroke="#000" stroke-width="1" />
<line x1="291.2" y1="116.17" x2="293.1" y2="116.17" stroke="#000" stroke-width="1" />
<line x1="291.2" y1="112.76" x2="293.1" y2="112.76" stroke="#000" stroke-width="1" />
<line x1="291.2" y1="110.34" x2="293.1" y2="110.34" stroke="#000" stroke-width="1" />
<line x1="291.2" y1="108.46" x2="293.1" y2="108.46" stroke="#000" stroke-width="1" />
<line x1="291.2" y1="106.92" x2="293.1" y2="106.92" stroke="#000" stroke-width="1" />
<line x1="291.2" y1="105.63" x2="293.1" y2="105.63" stroke="#000" stroke-width="1" />
<line x1="291.2" y1="104.5" x2="293.1" y2="104.5" stroke="#000" stroke-width="1" />
<line x1="291.2" y1="103.51" x2="293.1" y2="103.51" stroke="#000" stroke-width="1" />
<line x1="290.3" y1="102.62" x2="293.1" y2="102.62" stroke="#000" stroke-width="1" />
<line x1="291.2" y1="96.79" x2="293.1" y2="96.79" stroke="#000" stroke-width="1" />
<line x1="291.2" y1="93.38" x2="293.1" y2="93.38" stroke="#000" stroke-width="1" />
<line x1="291.2" y1="90.96" x2="293.1" y2="90.96" stroke="#000" stroke-width="1" />
<line x1="291.2" y1="89.08" x2="293.1" y2="89.08" stroke="#000" stroke-width="1" />
<line x1="291.2" y1="87.55" x2="293.1" y2="87.55" stroke="#000" stroke-width="1" />
<line x1="291.2" y1="86.25" x2="293.1" y2="86.25" stroke="#000" stroke-width="1" />
<line x1="291.2" y1="85.13" x2="293.1" y2="85.13" stroke="#000" stroke-width="1" />
<line x1="291.2" y1="84.14" x2="293.1" y2="84.14" stroke="#000" stroke-width="1" />
<line x1="290.3" y1="83.25" x2="293.1" y2="83.25" stroke="#000" stroke-width="1" />
<line x1="291.2" y1="77.42" x2="293.1" y2="77.42" stroke="#000" stroke-width="1" />
<line x1="291.2" y1="74.01" x2="293.1" y2="74.01" stroke="#000" stroke-width="1" />
<line x1="291.2" y1="71.59" x2="293.1" y2="71.59" stroke="#000" stroke-width="1" />
<line x1="291.2" y1="69.71" x2="293.1" y2="69.71" stroke="#000" stroke-width="1" />
<line x1="291.2" y1="68.17" x2="293.1" y2="68.17" stroke="#000" stroke-width="1" />
<line x1="291.2" y1="66.88" x2="293.1" y2="66.88" stroke="#000" stroke-width="1" />
<line x1="291.2" y1="65.75" x2="293.1" y2="65.75" stroke="#000" stroke-width="1" />
<line x1="291.2" y1="64.76" x2="293.1" y2="64.76" stroke="#000" stroke-width="1" />
<line x1="290.3" y1="63.88" x2="293.1" y2="63.88" stroke="#000" stroke-width="1" />
<line x1="291.2" y1="58.04" x2="293.1" y2="58.04" stroke="#000" stroke-width="1" />
<line x1="291.2" y1="54.63" x2="293.1" y2="54.63" stroke="#000" stroke-width="1" />
<line x1="291.2" y1="52.21" x2="293.1" y2="52.21" stroke="#000" stroke-width="1" />
<line x1="291.2" y1="50.33" x2="293.1" y2="50.33" stroke="#000" stroke-width="1" />
<line x1="291.2" y1="48.8" x2="293.1" y2="48.8" stroke="#000" stroke-width="1" />
<line x1="291.2" y1="47.5" x2="293.1" y2="47.5" stroke="#000" stroke-width="1" />
<line x1="291.2" y1="46.38" x2="293.1" y2="46.38" stroke="#000" stroke-width="1" />
<line x1="291.2" y1="45.39" x2="293.1" y2="45.39" stroke="#000" stroke-width="1" />
<line x1="290.8" y1="44.5" x2="293.4" y2="44.5" stroke="#111" stroke-width="0.7" />
<text transform="translate(287.7,126.3) rotate(-90)" font-family="Liberation Serif, serif" font-size="8.4" font-weight="normal" fill="#333" text-anchor="start" stroke="#333" stroke-width="0.1" textLength="5.6" lengthAdjust="spacingAndGlyphs" >10</text>
<text transform="translate(283.1,120) rotate(-90)" font-family="Liberation Serif, serif" font-size="7" font-weight="normal" fill="#333" text-anchor="start" stroke="#333" stroke-width="0.05" >0</text>
<text transform="translate(287.7,106.92) rotate(-90)" font-family="Liberation Serif, serif" font-size="8.4" font-weight="normal" fill="#333" text-anchor="start" stroke="#333" stroke-width="0.1" textLength="5.6" lengthAdjust="spacingAndGlyphs" >10</text>
<text transform="translate(283.1,100.62) rotate(-90)" font-family="Liberation Serif, serif" font-size="7" font-weight="normal" fill="#333" text-anchor="start" stroke="#333" stroke-width="0.05" >1</text>
<text transform="translate(287.7,87.55) rotate(-90)" font-family="Liberation Serif, serif" font-size="8.4" font-weight="normal" fill="#333" text-anchor="start" stroke="#333" stroke-width="0.1" textLength="5.6" lengthAdjust="spacingAndGlyphs" >10</text>
<text transform="translate(283.1,81.25) rotate(-90)" font-family="Liberation Serif, serif" font-size="7" font-weight="normal" fill="#333" text-anchor="start" stroke="#333" stroke-width="0.05" >2</text>
<text transform="translate(287.7,68.17) rotate(-90)" font-family="Liberation Serif, serif" font-size="8.4" font-weight="normal" fill="#333" text-anchor="start" stroke="#333" stroke-width="0.1" textLength="5.6" lengthAdjust="spacingAndGlyphs" >10</text>
<text transform="translate(283.1,61.88) rotate(-90)" font-family="Liberation Serif, serif" font-size="7" font-weight="normal" fill="#333" text-anchor="start" stroke="#333" stroke-width="0.05" >3</text>
<text transform="translate(287.7,48.8) rotate(-90)" font-family="Liberation Serif, serif" font-size="8.4" font-weight="normal" fill="#333" text-anchor="start" stroke="#333" stroke-width="0.1" textLength="5.6" lengthAdjust="spacingAndGlyphs" >10</text>
<text transform="translate(283.1,42.5) rotate(-90)" font-family="Liberation Serif, serif" font-size="7" font-weight="normal" fill="#333" text-anchor="start" stroke="#333" stroke-width="0.05" >4</text>
<rect x="424.2" y="45.5" width="88.8" height="76.5" fill="none" stroke="#555" stroke-width="0.9" />
<path d="M424.2 79.5H513M424.2 88.5H452.2" stroke="#333" stroke-width="1" fill="none"/>
<path d="M452.2 88.5L470 70.5" stroke="#111" stroke-width="1.2" fill="none"/>
<path d="M468.5 45.5V122M471.5 45.5V122" stroke="#555" stroke-width="0.7" fill="none"/>
<path fill="#000" d="M492 50h1v1h-1zM494 50h1v1h-1zM490 51h1v1h-1zM493 51h1v1h-1zM491 52h1v1h-1zM494 52h1v1h-1zM496 52h1v1h-1zM486 53h1v1h-1zM491 53h2v1h-2zM495 53h1v1h-1zM487 54h4v1h-4zM492 54h3v1h-3zM501 54h1v1h-1zM488 55h1v1h-1zM491 55h6v1h-6zM490 56h6v1h-6zM485 57h1v1h-1zM487 57h10v1h-10zM499 57h1v1h-1zM484 58h3v1h-3zM488 58h4v1h-4zM493 58h1v1h-1zM495 58h7v1h-7zM484 59h2v1h-2zM487 59h1v1h-1zM489 59h6v1h-6zM496 59h3v1h-3zM480 60h1v1h-1zM482 60h7v1h-7zM492 60h4v1h-4zM497 60h1v1h-1zM500 60h1v1h-1zM504 60h1v1h-1zM482 61h4v1h-4zM487 61h3v1h-3zM491 61h5v1h-5zM498 61h1v1h-1zM500 61h1v1h-1zM478 62h1v1h-1zM480 62h1v1h-1zM482 62h2v1h-2zM485 62h5v1h-5zM491 62h5v1h-5zM497 62h1v1h-1zM500 62h2v1h-2zM478 63h1v1h-1zM480 63h10v1h-10zM491 63h7v1h-7zM502 63h1v1h-1zM478 64h12v1h-12zM492 64h7v1h-7zM475 65h1v1h-1zM478 65h15v1h-15zM494 65h1v1h-1zM496 65h3v1h-3zM476 66h11v1h-11zM488 66h8v1h-8zM497 66h1v1h-1zM474 67h14v1h-14zM489 67h6v1h-6zM496 67h3v1h-3zM475 68h10v1h-10zM486 68h1v1h-1zM488 68h11v1h-11zM502 68h1v1h-1zM476 69h2v1h-2zM479 69h5v1h-5zM485 69h10v1h-10zM497 69h1v1h-1zM499 69h1v1h-1zM474 70h17v1h-17zM492 70h4v1h-4zM497 70h2v1h-2zM501 70h1v1h-1zM471 71h1v1h-1zM473 71h14v1h-14zM488 71h5v1h-5zM495 71h2v1h-2zM498 71h1v1h-1zM500 71h1v1h-1zM472 72h1v1h-1zM474 72h15v1h-15zM491 72h5v1h-5zM500 72h1v1h-1zM472 73h19v1h-19zM494 73h2v1h-2zM498 73h1v1h-1zM503 73h1v1h-1zM473 74h22v1h-22zM496 74h2v1h-2zM499 74h1v1h-1zM470 75h1v1h-1zM472 75h17v1h-17zM490 75h5v1h-5zM497 75h1v1h-1zM468 76h1v1h-1zM470 76h18v1h-18zM489 76h7v1h-7zM497 76h1v1h-1zM499 76h1v1h-1zM468 77h17v1h-17zM486 77h12v1h-12zM468 78h1v1h-1zM470 78h18v1h-18zM489 78h1v1h-1zM491 78h4v1h-4zM467 79h1v1h-1zM469 79h24v1h-24zM494 79h2v1h-2zM497 79h1v1h-1zM500 79h1v1h-1zM467 80h27v1h-27zM495 80h1v1h-1zM467 81h19v1h-19zM488 81h1v1h-1zM491 81h2v1h-2zM494 81h1v1h-1zM496 81h1v1h-1zM498 81h1v1h-1zM464 82h24v1h-24zM489 82h8v1h-8zM460 83h1v1h-1zM466 83h25v1h-25zM493 83h1v1h-1zM495 83h1v1h-1zM497 83h1v1h-1zM462 84h1v1h-1zM465 84h24v1h-24zM490 84h5v1h-5zM462 85h23v1h-23zM487 85h1v1h-1zM489 85h3v1h-3zM493 85h1v1h-1zM495 85h3v1h-3zM502 85h1v1h-1zM508 85h1v1h-1zM458 86h1v1h-1zM461 86h30v1h-30zM493 86h1v1h-1zM495 86h1v1h-1zM503 86h1v1h-1zM458 87h26v1h-26zM486 87h9v1h-9zM496 87h1v1h-1zM458 88h25v1h-25zM484 88h6v1h-6zM491 88h4v1h-4zM498 88h1v1h-1zM450 89h1v1h-1zM457 89h26v1h-26zM484 89h3v1h-3zM488 89h6v1h-6zM495 89h2v1h-2zM454 90h4v1h-4zM459 90h25v1h-25zM485 90h4v1h-4zM490 90h3v1h-3zM494 90h3v1h-3zM455 91h1v1h-1zM457 91h28v1h-28zM486 91h6v1h-6zM493 91h1v1h-1zM448 92h1v1h-1zM453 92h43v1h-43zM500 92h1v1h-1zM452 93h43v1h-43zM497 93h1v1h-1zM446 94h1v1h-1zM448 94h2v1h-2zM453 94h31v1h-31zM485 94h9v1h-9zM446 95h1v1h-1zM448 95h2v1h-2zM451 95h3v1h-3zM456 95h31v1h-31zM488 95h7v1h-7zM437 96h1v1h-1zM445 96h47v1h-47zM493 96h3v1h-3zM497 96h1v1h-1zM499 96h1v1h-1zM438 97h2v1h-2zM441 97h1v1h-1zM443 97h46v1h-46zM490 97h4v1h-4zM495 97h1v1h-1zM432 98h1v1h-1zM435 98h1v1h-1zM444 98h49v1h-49zM496 98h1v1h-1zM436 99h2v1h-2zM439 99h47v1h-47zM487 99h4v1h-4zM492 99h1v1h-1zM433 100h48v1h-48zM482 100h15v1h-15zM430 101h1v1h-1zM433 101h48v1h-48zM482 101h8v1h-8zM491 101h3v1h-3zM428 102h2v1h-2zM431 102h1v1h-1zM435 102h3v1h-3zM439 102h4v1h-4zM444 102h20v1h-20zM465 102h10v1h-10zM476 102h14v1h-14zM492 102h1v1h-1zM496 102h1v1h-1zM427 103h2v1h-2zM430 103h17v1h-17zM448 103h8v1h-8zM457 103h6v1h-6zM464 103h4v1h-4zM469 103h8v1h-8zM478 103h4v1h-4zM483 103h10v1h-10zM424 104h1v1h-1zM428 104h32v1h-32zM461 104h10v1h-10zM472 104h5v1h-5zM478 104h16v1h-16zM424 105h3v1h-3zM428 105h15v1h-15zM444 105h28v1h-28zM473 105h7v1h-7zM481 105h2v1h-2zM484 105h1v1h-1zM486 105h2v1h-2zM490 105h3v1h-3zM495 105h1v1h-1zM424 106h38v1h-38zM463 106h10v1h-10zM474 106h2v1h-2zM477 106h1v1h-1zM479 106h6v1h-6zM486 106h2v1h-2zM490 106h3v1h-3zM424 107h27v1h-27zM454 107h2v1h-2zM457 107h8v1h-8zM466 107h3v1h-3zM470 107h1v1h-1zM472 107h6v1h-6zM481 107h2v1h-2zM484 107h2v1h-2zM489 107h1v1h-1zM492 107h2v1h-2zM424 108h18v1h-18zM443 108h1v1h-1zM446 108h5v1h-5zM452 108h2v1h-2zM455 108h4v1h-4zM461 108h5v1h-5zM467 108h4v1h-4zM472 108h3v1h-3zM476 108h2v1h-2zM479 108h2v1h-2zM482 108h1v1h-1zM484 108h1v1h-1zM486 108h2v1h-2zM489 108h3v1h-3zM493 108h1v1h-1zM506 108h1v1h-1zM424 109h21v1h-21zM446 109h1v1h-1zM448 109h6v1h-6zM455 109h5v1h-5zM462 109h1v1h-1zM465 109h1v1h-1zM467 109h1v1h-1zM469 109h5v1h-5zM475 109h1v1h-1zM477 109h1v1h-1zM479 109h2v1h-2zM482 109h1v1h-1zM484 109h6v1h-6zM491 109h1v1h-1zM495 109h1v1h-1zM424 110h22v1h-22zM450 110h3v1h-3zM454 110h3v1h-3zM458 110h2v1h-2zM461 110h1v1h-1zM464 110h13v1h-13zM479 110h1v1h-1zM481 110h1v1h-1zM483 110h7v1h-7zM424 111h31v1h-31zM457 111h1v1h-1zM459 111h4v1h-4zM465 111h1v1h-1zM468 111h2v1h-2zM471 111h6v1h-6zM479 111h11v1h-11zM491 111h1v1h-1zM424 112h13v1h-13zM438 112h14v1h-14zM453 112h5v1h-5zM460 112h3v1h-3zM465 112h1v1h-1zM468 112h6v1h-6zM475 112h2v1h-2zM478 112h1v1h-1zM481 112h4v1h-4zM486 112h3v1h-3zM490 112h1v1h-1zM492 112h2v1h-2zM496 112h1v1h-1zM424 113h32v1h-32zM458 113h2v1h-2zM461 113h2v1h-2zM465 113h1v1h-1zM468 113h2v1h-2zM471 113h1v1h-1zM473 113h5v1h-5zM481 113h1v1h-1zM485 113h4v1h-4zM490 113h1v1h-1zM494 113h1v1h-1zM496 113h1v1h-1zM424 114h21v1h-21zM446 114h4v1h-4zM451 114h1v1h-1zM453 114h1v1h-1zM455 114h1v1h-1zM457 114h1v1h-1zM459 114h5v1h-5zM465 114h2v1h-2zM469 114h1v1h-1zM471 114h3v1h-3zM475 114h4v1h-4zM480 114h2v1h-2zM485 114h3v1h-3zM489 114h1v1h-1zM491 114h1v1h-1zM424 115h19v1h-19zM444 115h2v1h-2zM449 115h3v1h-3zM455 115h1v1h-1zM460 115h2v1h-2zM463 115h2v1h-2zM466 115h3v1h-3zM470 115h3v1h-3zM474 115h2v1h-2zM483 115h2v1h-2zM486 115h4v1h-4zM491 115h3v1h-3zM496 115h1v1h-1zM424 116h17v1h-17zM442 116h5v1h-5zM449 116h3v1h-3zM454 116h2v1h-2zM457 116h2v1h-2zM460 116h1v1h-1zM462 116h2v1h-2zM465 116h1v1h-1zM467 116h2v1h-2zM471 116h1v1h-1zM473 116h5v1h-5zM481 116h7v1h-7zM489 116h5v1h-5zM496 116h1v1h-1zM424 117h32v1h-32zM457 117h2v1h-2zM460 117h3v1h-3zM464 117h6v1h-6zM471 117h4v1h-4zM477 117h5v1h-5zM484 117h7v1h-7zM492 117h1v1h-1zM424 118h22v1h-22zM447 118h12v1h-12zM461 118h1v1h-1zM463 118h2v1h-2zM467 118h1v1h-1zM469 118h2v1h-2zM472 118h1v1h-1zM474 118h1v1h-1zM477 118h1v1h-1zM479 118h6v1h-6zM486 118h4v1h-4zM491 118h1v1h-1zM424 119h26v1h-26zM451 119h4v1h-4zM457 119h1v1h-1zM459 119h3v1h-3zM464 119h3v1h-3zM468 119h1v1h-1zM472 119h3v1h-3zM476 119h1v1h-1zM478 119h2v1h-2zM481 119h1v1h-1zM483 119h1v1h-1zM485 119h7v1h-7zM496 119h1v1h-1zM498 119h1v1h-1zM424 120h22v1h-22zM447 120h2v1h-2zM450 120h10v1h-10zM461 120h12v1h-12zM474 120h9v1h-9zM484 120h5v1h-5zM490 120h3v1h-3zM495 120h1v1h-1zM424 121h24v1h-24zM449 121h3v1h-3zM453 121h9v1h-9zM463 121h7v1h-7zM471 121h13v1h-13zM485 121h6v1h-6z"/>
<path fill="#e03a3a" d="M458 58h1v1h-1zM468 59h1v1h-1zM453 60h1v1h-1zM451 61h1v1h-1zM472 61h1v1h-1zM457 62h1v1h-1zM461 62h3v1h-3zM468 62h1v1h-1zM470 62h1v1h-1zM454 63h1v1h-1zM456 63h1v1h-1zM463 63h1v1h-1zM459 64h1v1h-1zM471 64h1v1h-1zM461 65h1v1h-1zM463 65h3v1h-3zM459 66h1v1h-1zM463 66h1v1h-1zM467 66h2v1h-2zM455 67h1v1h-1zM458 67h1v1h-1zM471 67h1v1h-1zM447 68h2v1h-2zM453 68h1v1h-1zM465 68h1v1h-1zM468 68h1v1h-1zM451 69h1v1h-1zM460 69h1v1h-1zM463 69h1v1h-1zM450 70h1v1h-1zM454 70h1v1h-1zM462 70h1v1h-1zM452 71h1v1h-1zM462 71h2v1h-2zM465 71h1v1h-1zM454 72h1v1h-1zM457 72h2v1h-2zM461 72h1v1h-1zM448 73h1v1h-1zM450 73h1v1h-1zM450 74h1v1h-1zM452 74h2v1h-2zM461 74h1v1h-1zM454 75h1v1h-1zM458 75h1v1h-1zM458 78h1v1h-1z"/>
<path fill="#b02020" d="M459 61h1v1h-1zM453 64h1v1h-1zM454 67h1v1h-1zM467 67h1v1h-1zM454 68h1v1h-1zM447 70h1v1h-1zM450 72h1v1h-1zM465 74h1v1h-1z"/>
<path d="M466 80L472 73L478 64" stroke="#fff" stroke-width="0.8" stroke-dasharray="1.4 1.2" fill="none"/>
<text x="447.0" y="75.4" font-family="Liberation Sans, sans-serif" font-size="7.8" fill="#333" stroke="#333" stroke-width="0.2" textLength="9.2" lengthAdjust="spacingAndGlyphs">R1</text>
<text x="453.7" y="39.2" font-family="Liberation Sans, sans-serif" font-size="8.3" font-weight="bold" fill="#111" text-anchor="start" stroke="#111" stroke-width="0.25" textLength="43.5" lengthAdjust="spacingAndGlyphs" >500 nM GX</text>
<text x="431.6" y="55.5" font-family="Liberation Sans, sans-serif" font-size="7.7" font-weight="bold" fill="#1a1a1a" text-anchor="start" stroke="#1a1a1a" stroke-width="0.4" textLength="16.9" lengthAdjust="spacingAndGlyphs" >0.4%</text>
<line x1="424.2" y1="122" x2="424.2" y2="124.6" stroke="#000" stroke-width="0.9" />
<line x1="430.88" y1="122" x2="430.88" y2="123.8" stroke="#000" stroke-width="0.9" />
<line x1="434.79" y1="122" x2="434.79" y2="123.8" stroke="#000" stroke-width="0.9" />
<line x1="437.57" y1="122" x2="437.57" y2="123.8" stroke="#000" stroke-width="0.9" />
<line x1="439.72" y1="122" x2="439.72" y2="123.8" stroke="#000" stroke-width="0.9" />
<line x1="441.47" y1="122" x2="441.47" y2="123.8" stroke="#000" stroke-width="0.9" />
<line x1="442.96" y1="122" x2="442.96" y2="123.8" stroke="#000" stroke-width="0.9" />
<line x1="444.25" y1="122" x2="444.25" y2="123.8" stroke="#000" stroke-width="0.9" />
<line x1="445.38" y1="122" x2="445.38" y2="123.8" stroke="#000" stroke-width="0.9" />
<line x1="446.4" y1="122" x2="446.4" y2="124.6" stroke="#000" stroke-width="0.9" />
<line x1="453.08" y1="122" x2="453.08" y2="123.8" stroke="#000" stroke-width="0.9" />
<line x1="456.99" y1="122" x2="456.99" y2="123.8" stroke="#000" stroke-width="0.9" />
<line x1="459.77" y1="122" x2="459.77" y2="123.8" stroke="#000" stroke-width="0.9" />
<line x1="461.92" y1="122" x2="461.92" y2="123.8" stroke="#000" stroke-width="0.9" />
<line x1="463.67" y1="122" x2="463.67" y2="123.8" stroke="#000" stroke-width="0.9" />
<line x1="465.16" y1="122" x2="465.16" y2="123.8" stroke="#000" stroke-width="0.9" />
<line x1="466.45" y1="122" x2="466.45" y2="123.8" stroke="#000" stroke-width="0.9" />
<line x1="467.58" y1="122" x2="467.58" y2="123.8" stroke="#000" stroke-width="0.9" />
<line x1="468.6" y1="122" x2="468.6" y2="124.6" stroke="#000" stroke-width="0.9" />
<line x1="475.28" y1="122" x2="475.28" y2="123.8" stroke="#000" stroke-width="0.9" />
<line x1="479.19" y1="122" x2="479.19" y2="123.8" stroke="#000" stroke-width="0.9" />
<line x1="481.97" y1="122" x2="481.97" y2="123.8" stroke="#000" stroke-width="0.9" />
<line x1="484.12" y1="122" x2="484.12" y2="123.8" stroke="#000" stroke-width="0.9" />
<line x1="485.87" y1="122" x2="485.87" y2="123.8" stroke="#000" stroke-width="0.9" />
<line x1="487.36" y1="122" x2="487.36" y2="123.8" stroke="#000" stroke-width="0.9" />
<line x1="488.65" y1="122" x2="488.65" y2="123.8" stroke="#000" stroke-width="0.9" />
<line x1="489.78" y1="122" x2="489.78" y2="123.8" stroke="#000" stroke-width="0.9" />
<line x1="490.8" y1="122" x2="490.8" y2="124.6" stroke="#000" stroke-width="0.9" />
<line x1="497.48" y1="122" x2="497.48" y2="123.8" stroke="#000" stroke-width="0.9" />
<line x1="501.39" y1="122" x2="501.39" y2="123.8" stroke="#000" stroke-width="0.9" />
<line x1="504.17" y1="122" x2="504.17" y2="123.8" stroke="#000" stroke-width="0.9" />
<line x1="506.32" y1="122" x2="506.32" y2="123.8" stroke="#000" stroke-width="0.9" />
<line x1="508.07" y1="122" x2="508.07" y2="123.8" stroke="#000" stroke-width="0.9" />
<line x1="509.56" y1="122" x2="509.56" y2="123.8" stroke="#000" stroke-width="0.9" />
<line x1="510.85" y1="122" x2="510.85" y2="123.8" stroke="#000" stroke-width="0.9" />
<line x1="511.98" y1="122" x2="511.98" y2="123.8" stroke="#000" stroke-width="0.9" />
<line x1="513" y1="122" x2="513" y2="124.6" stroke="#111" stroke-width="0.6" />
<line x1="424.2" y1="122.5" x2="513" y2="122.5" stroke="#222" stroke-width="1" />
<text x="419.6" y="135.9" font-family="Liberation Serif, serif" font-size="7.8" font-weight="normal" fill="#333" text-anchor="start" stroke="#333" stroke-width="0.1" textLength="6.6" lengthAdjust="spacingAndGlyphs" >10</text>
<text x="426.6" y="131.8" font-family="Liberation Serif, serif" font-size="7" font-weight="normal" fill="#333" text-anchor="start" stroke="#333" stroke-width="0.05" >0</text>
<text x="441.8" y="135.9" font-family="Liberation Serif, serif" font-size="7.8" font-weight="normal" fill="#333" text-anchor="start" stroke="#333" stroke-width="0.1" textLength="6.6" lengthAdjust="spacingAndGlyphs" >10</text>
<text x="448.8" y="131.8" font-family="Liberation Serif, serif" font-size="7" font-weight="normal" fill="#333" text-anchor="start" stroke="#333" stroke-width="0.05" >1</text>
<text x="464" y="135.9" font-family="Liberation Serif, serif" font-size="7.8" font-weight="normal" fill="#333" text-anchor="start" stroke="#333" stroke-width="0.1" textLength="6.6" lengthAdjust="spacingAndGlyphs" >10</text>
<text x="471" y="131.8" font-family="Liberation Serif, serif" font-size="7" font-weight="normal" fill="#333" text-anchor="start" stroke="#333" stroke-width="0.05" >2</text>
<text x="486.2" y="135.9" font-family="Liberation Serif, serif" font-size="7.8" font-weight="normal" fill="#333" text-anchor="start" stroke="#333" stroke-width="0.1" textLength="6.6" lengthAdjust="spacingAndGlyphs" >10</text>
<text x="493.2" y="131.8" font-family="Liberation Serif, serif" font-size="7" font-weight="normal" fill="#333" text-anchor="start" stroke="#333" stroke-width="0.05" >3</text>
<text x="508.4" y="135.9" font-family="Liberation Serif, serif" font-size="7.8" font-weight="normal" fill="#333" text-anchor="start" stroke="#333" stroke-width="0.1" textLength="6.6" lengthAdjust="spacingAndGlyphs" >10</text>
<text x="515.4" y="131.8" font-family="Liberation Serif, serif" font-size="7" font-weight="normal" fill="#333" text-anchor="start" stroke="#333" stroke-width="0.05" >4</text>
<line x1="421.1" y1="122" x2="423.9" y2="122" stroke="#000" stroke-width="1" />
<line x1="422" y1="116.24" x2="423.9" y2="116.24" stroke="#000" stroke-width="1" />
<line x1="422" y1="112.88" x2="423.9" y2="112.88" stroke="#000" stroke-width="1" />
<line x1="422" y1="110.49" x2="423.9" y2="110.49" stroke="#000" stroke-width="1" />
<line x1="422" y1="108.63" x2="423.9" y2="108.63" stroke="#000" stroke-width="1" />
<line x1="422" y1="107.12" x2="423.9" y2="107.12" stroke="#000" stroke-width="1" />
<line x1="422" y1="105.84" x2="423.9" y2="105.84" stroke="#000" stroke-width="1" />
<line x1="422" y1="104.73" x2="423.9" y2="104.73" stroke="#000" stroke-width="1" />
<line x1="422" y1="103.75" x2="423.9" y2="103.75" stroke="#000" stroke-width="1" />
<line x1="421.1" y1="102.88" x2="423.9" y2="102.88" stroke="#000" stroke-width="1" />
<line x1="422" y1="97.12" x2="423.9" y2="97.12" stroke="#000" stroke-width="1" />
<line x1="422" y1="93.75" x2="423.9" y2="93.75" stroke="#000" stroke-width="1" />
<line x1="422" y1="91.36" x2="423.9" y2="91.36" stroke="#000" stroke-width="1" />
<line x1="422" y1="89.51" x2="423.9" y2="89.51" stroke="#000" stroke-width="1" />
<line x1="422" y1="87.99" x2="423.9" y2="87.99" stroke="#000" stroke-width="1" />
<line x1="422" y1="86.71" x2="423.9" y2="86.71" stroke="#000" stroke-width="1" />
<line x1="422" y1="85.6" x2="423.9" y2="85.6" stroke="#000" stroke-width="1" />
<line x1="422" y1="84.63" x2="423.9" y2="84.63" stroke="#000" stroke-width="1" />
<line x1="421.1" y1="83.75" x2="423.9" y2="83.75" stroke="#000" stroke-width="1" />
<line x1="422" y1="77.99" x2="423.9" y2="77.99" stroke="#000" stroke-width="1" />
<line x1="422" y1="74.63" x2="423.9" y2="74.63" stroke="#000" stroke-width="1" />
<line x1="422" y1="72.24" x2="423.9" y2="72.24" stroke="#000" stroke-width="1" />
<line x1="422" y1="70.38" x2="423.9" y2="70.38" stroke="#000" stroke-width="1" />
<line x1="422" y1="68.87" x2="423.9" y2="68.87" stroke="#000" stroke-width="1" />
<line x1="422" y1="67.59" x2="423.9" y2="67.59" stroke="#000" stroke-width="1" />
<line x1="422" y1="66.48" x2="423.9" y2="66.48" stroke="#000" stroke-width="1" />
<line x1="422" y1="65.5" x2="423.9" y2="65.5" stroke="#000" stroke-width="1" />
<line x1="421.1" y1="64.62" x2="423.9" y2="64.62" stroke="#000" stroke-width="1" />
<line x1="422" y1="58.87" x2="423.9" y2="58.87" stroke="#000" stroke-width="1" />
<line x1="422" y1="55.5" x2="423.9" y2="55.5" stroke="#000" stroke-width="1" />
<line x1="422" y1="53.11" x2="423.9" y2="53.11" stroke="#000" stroke-width="1" />
<line x1="422" y1="51.26" x2="423.9" y2="51.26" stroke="#000" stroke-width="1" />
<line x1="422" y1="49.74" x2="423.9" y2="49.74" stroke="#000" stroke-width="1" />
<line x1="422" y1="48.46" x2="423.9" y2="48.46" stroke="#000" stroke-width="1" />
<line x1="422" y1="47.35" x2="423.9" y2="47.35" stroke="#000" stroke-width="1" />
<line x1="422" y1="46.38" x2="423.9" y2="46.38" stroke="#000" stroke-width="1" />
<line x1="421.6" y1="45.5" x2="424.2" y2="45.5" stroke="#111" stroke-width="0.7" />
<text transform="translate(418.5,126.3) rotate(-90)" font-family="Liberation Serif, serif" font-size="8.4" font-weight="normal" fill="#333" text-anchor="start" stroke="#333" stroke-width="0.1" textLength="5.6" lengthAdjust="spacingAndGlyphs" >10</text>
<text transform="translate(413.9,120) rotate(-90)" font-family="Liberation Serif, serif" font-size="7" font-weight="normal" fill="#333" text-anchor="start" stroke="#333" stroke-width="0.05" >0</text>
<text transform="translate(418.5,107.17) rotate(-90)" font-family="Liberation Serif, serif" font-size="8.4" font-weight="normal" fill="#333" text-anchor="start" stroke="#333" stroke-width="0.1" textLength="5.6" lengthAdjust="spacingAndGlyphs" >10</text>
<text transform="translate(413.9,100.88) rotate(-90)" font-family="Liberation Serif, serif" font-size="7" font-weight="normal" fill="#333" text-anchor="start" stroke="#333" stroke-width="0.05" >1</text>
<text transform="translate(418.5,88.05) rotate(-90)" font-family="Liberation Serif, serif" font-size="8.4" font-weight="normal" fill="#333" text-anchor="start" stroke="#333" stroke-width="0.1" textLength="5.6" lengthAdjust="spacingAndGlyphs" >10</text>
<text transform="translate(413.9,81.75) rotate(-90)" font-family="Liberation Serif, serif" font-size="7" font-weight="normal" fill="#333" text-anchor="start" stroke="#333" stroke-width="0.05" >2</text>
<text transform="translate(418.5,68.92) rotate(-90)" font-family="Liberation Serif, serif" font-size="8.4" font-weight="normal" fill="#333" text-anchor="start" stroke="#333" stroke-width="0.1" textLength="5.6" lengthAdjust="spacingAndGlyphs" >10</text>
<text transform="translate(413.9,62.62) rotate(-90)" font-family="Liberation Serif, serif" font-size="7" font-weight="normal" fill="#333" text-anchor="start" stroke="#333" stroke-width="0.05" >3</text>
<text transform="translate(418.5,49.8) rotate(-90)" font-family="Liberation Serif, serif" font-size="8.4" font-weight="normal" fill="#333" text-anchor="start" stroke="#333" stroke-width="0.1" textLength="5.6" lengthAdjust="spacingAndGlyphs" >10</text>
<text transform="translate(413.9,43.5) rotate(-90)" font-family="Liberation Serif, serif" font-size="7" font-weight="normal" fill="#333" text-anchor="start" stroke="#333" stroke-width="0.05" >4</text>
<text x="366.9" y="145.9" font-family="Liberation Sans, sans-serif" font-size="8.6" font-weight="bold" fill="#111" text-anchor="start" stroke="#111" stroke-width="0.25" textLength="65" lengthAdjust="spacingAndGlyphs" >Annexin V-FITC</text>
<text transform="translate(274.6,106.9) rotate(-90)" font-family="Liberation Sans, sans-serif" font-size="7.9" font-weight="bold" fill="#111" text-anchor="start" stroke="#111" stroke-width="0.25" textLength="40.8" lengthAdjust="spacingAndGlyphs" >CD138-PE</text>
<text transform="translate(405.9,106.8) rotate(-90)" font-family="Liberation Sans, sans-serif" font-size="7.9" font-weight="bold" fill="#111" text-anchor="start" stroke="#111" stroke-width="0.25" textLength="40.7" lengthAdjust="spacingAndGlyphs" >CD138-PE</text>
</svg></body></html>
